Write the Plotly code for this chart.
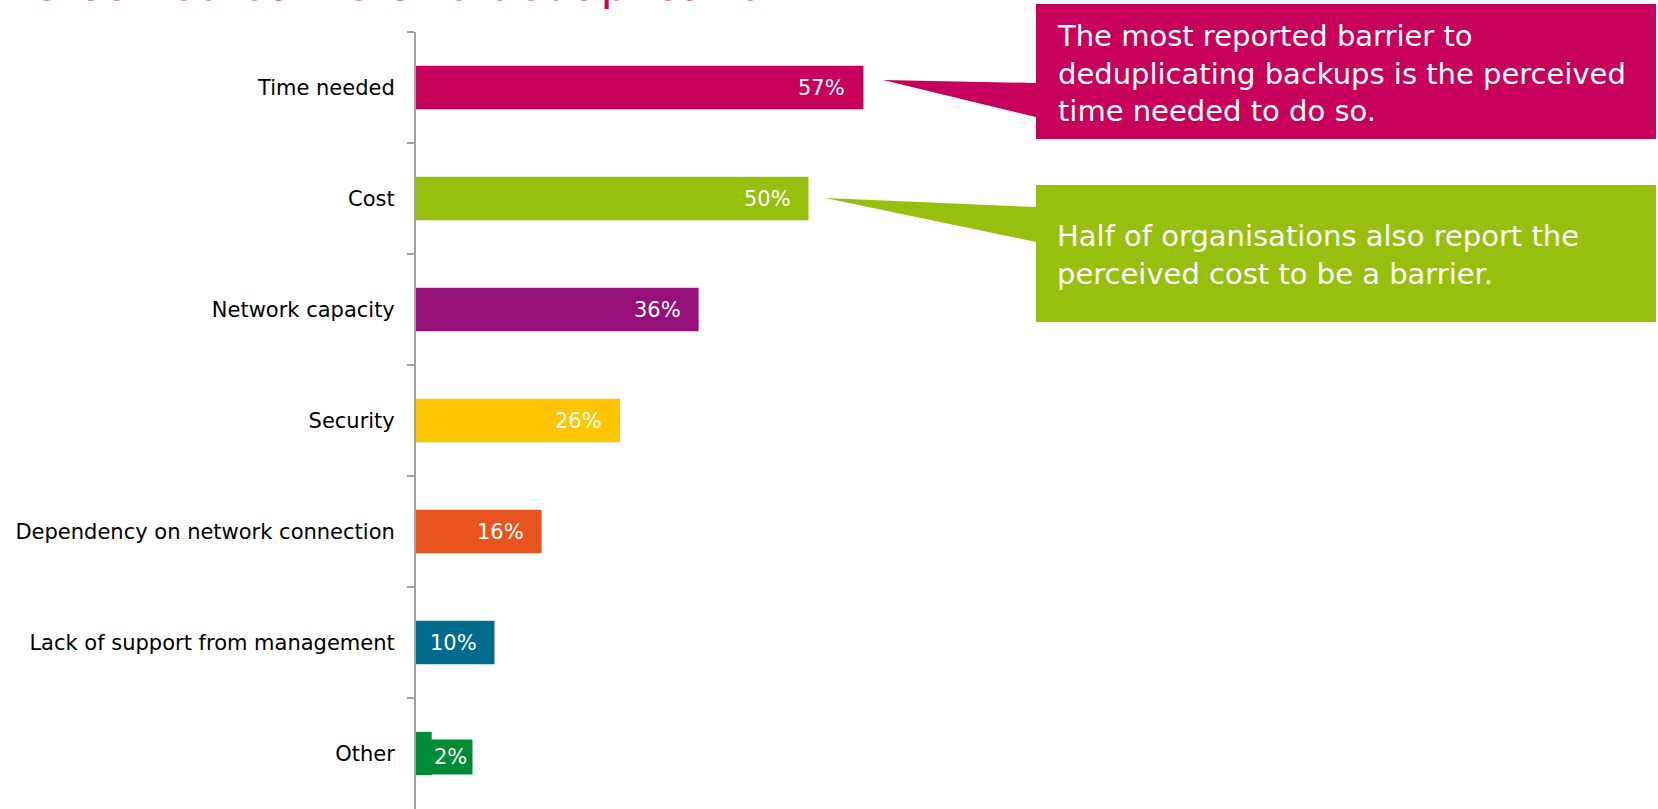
import plotly.graph_objects as go

# survey results
categories = ['Time needed', 'Cost', 'Network capacity', 'Security',
              'Dependency on network connection', 'Lack of support from management', 'Other']
values = [57, 50, 36, 26, 16, 10, 2]
value_labels = ['57%', '50%', '36%', '26%', '16%', '10%', '2%']
bar_colors = ['#C7005B', '#97BF0D', '#951078', '#FFC500', '#E75420', '#006B8C', '#008C36']

callout_texts = ['The most reported barrier to<br>deduplicating backups is the perceived<br>time needed to do so.',
                 'Half of organisations also report the<br>perceived cost to be a barrier.']

W, H = 1658, 809
left, top = 416, 32
plot_w = 785
plot_h = H - top


def px(x, y):
    # pixel position on the page -> paper coordinates
    return (x - left) / plot_w, (H - y) / plot_h


fig = go.Figure(go.Bar(x=values, y=categories, orientation='h',
                       marker=dict(color=bar_colors, line=dict(width=0)),
                       hoverinfo='skip'))

annotations = []
# value labels inside the bars
for cat, val, lab in zip(categories[:-1], values[:-1], value_labels[:-1]):
    annotations.append(dict(x=val, y=cat, text=lab, showarrow=False, xanchor='right',
                            xshift=-16, font=dict(color='white', size=21, family='DejaVu Sans')))
# the last bar is too small, label gets its own box
annotations.append(dict(x=values[-1], y=categories[-1], text=value_labels[-1], showarrow=False,
                        xanchor='left', xshift=-4, yshift=-3, bgcolor=bar_colors[-1], borderpad=5,
                        font=dict(color='white', size=21, family='DejaVu Sans')))

# callout boxes
shapes = []
callouts = [
    # tip, joint top, joint bottom, box top, box bottom, colour
    ((883, 80), 83, 117, 4, 139, bar_colors[0]),
    ((825, 198), 207, 242, 185, 322, bar_colors[1]),
]
box_l, box_r = 1036, 1656
for (tip, j1, j2, bt, bb, col), txt in zip(callouts, callout_texts):
    pts = [tip, (box_l, j1), (box_l, bt), (box_r, bt), (box_r, bb), (box_l, bb), (box_l, j2)]
    pts = [px(*p) for p in pts]
    path = 'M ' + ' L '.join('%f,%f' % p for p in pts) + ' Z'
    shapes.append(dict(type='path', xref='paper', yref='paper', path=path,
                       fillcolor=col, line=dict(width=0), layer='above'))
    tx, ty = px(1055, (bt + bb) / 2 + 2)
    annotations.append(dict(x=tx, y=ty, xref='paper', yref='paper', text=txt, showarrow=False,
                            xanchor='left', yanchor='middle', align='left',
                            font=dict(color='white', size=29, family='DejaVu Sans')))

# slide title, mostly cut off at the top
tx, ty = px(4, 13)
annotations.append(dict(x=tx, y=ty, xref='paper', yref='paper', text='Perceived barriers to deduplication',
                        showarrow=False, xanchor='left', yanchor='bottom',
                        font=dict(color='#C7005B', size=45, family='DejaVu Sans')))

fig.update_layout(
    width=W, height=H,
    margin=dict(l=left, r=W - left - plot_w, t=top, b=0),
    paper_bgcolor='white', plot_bgcolor='white',
    bargap=0.61, showlegend=False,
    font=dict(family='DejaVu Sans', size=21, color='black'),
    xaxis=dict(range=[0, 100], visible=False, fixedrange=True),
    yaxis=dict(autorange='reversed', showline=True, linecolor='#A0A0A0', linewidth=2,
               ticks='outside', tickson='boundaries', ticklen=7, tickcolor='#A0A0A0', tickwidth=2,
               showgrid=False, ticklabelstandoff=15, fixedrange=True,
               tickfont=dict(size=21, color='black')),
    shapes=shapes,
    annotations=annotations,
)

# drop the default page margin so the figure sits in the corner
fig.write_html("out.html", config={'displayModeBar': False},
               post_script="document.body.style.margin='0px';")
